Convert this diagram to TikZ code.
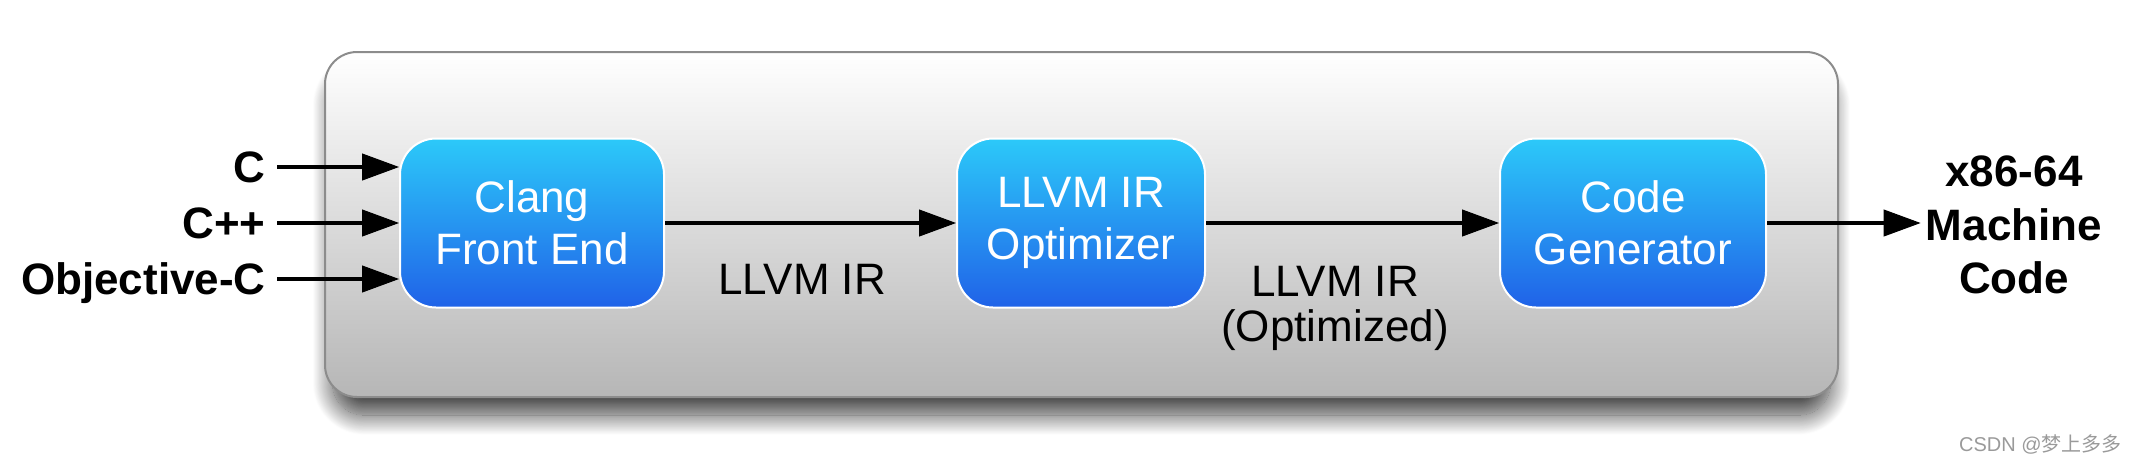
\documentclass[tikz,border=0pt]{standalone}
\usepackage{fontspec}
\setsansfont{Liberation Sans}
\newfontfamily\cjkfont{Noto Sans CJK SC}
\usepackage{tikz}
\usetikzlibrary{arrows.meta,shadows.blur}

\definecolor{stagetop}{HTML}{2CC9F9}
\definecolor{stagebottom}{HTML}{2062E8}
\definecolor{framegray}{HTML}{8C8C8C}
\definecolor{framebottom}{HTML}{B6B6B6}
\definecolor{markgray}{HTML}{9A9A9A}

\begin{document}
\begin{tikzpicture}[x=0.5pt,y=-0.5pt,>={Triangle[length=18.5pt,width=13.5pt,fill=black,line width=0.5pt]}]
	\tikzstyle{stage}=[draw=white,line width=1pt,rounded corners=18pt,top color=stagetop,bottom color=stagebottom,text=white,align=center,font=\sffamily\fontsize{22}{26}\selectfont,minimum height=84.5pt]
	\tikzstyle{lang}=[font=\sffamily\bfseries\fontsize{22}{26}\selectfont,text depth=0pt,inner sep=5.5pt,anchor=east]
	\tikzstyle{ir}=[font=\sffamily\fontsize{22}{22.5}\selectfont,align=center,inner sep=0pt]
	\tikzstyle{target}=[font=\sffamily\bfseries\fontsize{22}{26.75}\selectfont,align=center,inner sep=2.5pt]
	\tikzstyle{flow}=[->,draw=black,line width=1.75pt]

	\useasboundingbox (0,0) rectangle (2138,462);

	% pipeline frame
	\draw[framegray,line width=1pt,rounded corners=16pt,top color=white,bottom color=framebottom,
		blur shadow={shadow xshift=0pt,shadow yshift=-10pt,shadow scale=0.99,shadow blur radius=10pt,shadow blur steps=25,shadow opacity=75}]
		(325,52) rectangle (1838,397);

	\node[stage,minimum width=132pt](clang) at (532,223){Clang\\Front End};
	\node[stage,minimum width=124pt](opt) at (1081,223){LLVM IR\\Optimizer};
	\node[stage,minimum width=133pt](gen) at (1633,223){Code\\Generator};

	\node[lang](c) at (277,167){C};
	\node[lang](cpp) at (277,223){C++};
	\node[lang](objc) at (277,279){Objective-C};

	\node[ir,anchor=base](ir) at (802,294){LLVM IR};
	\node[ir](iropt) at (1335,308){LLVM IR\\(Optimized)};

	\node[target](mc) at (2014,225){x86-64\\Machine\\Code};

	\draw[flow] (c) -- (c -| clang.west);
	\draw[flow] (cpp) -- (cpp -| clang.west);
	\draw[flow] (objc) -- (objc -| clang.west);

	\draw[flow] (clang) -- (opt);
	\draw[flow] (opt) -- (gen);
	\draw[flow] (gen) -- (gen -| mc.west);

	% watermark
	\node[font=\sffamily\fontsize{10}{12}\selectfont,text=markgray,anchor=base east,inner sep=0pt](mark) at (2122,451){CSDN @{\cjkfont 梦上多多}};

\end{tikzpicture}
\end{document}
